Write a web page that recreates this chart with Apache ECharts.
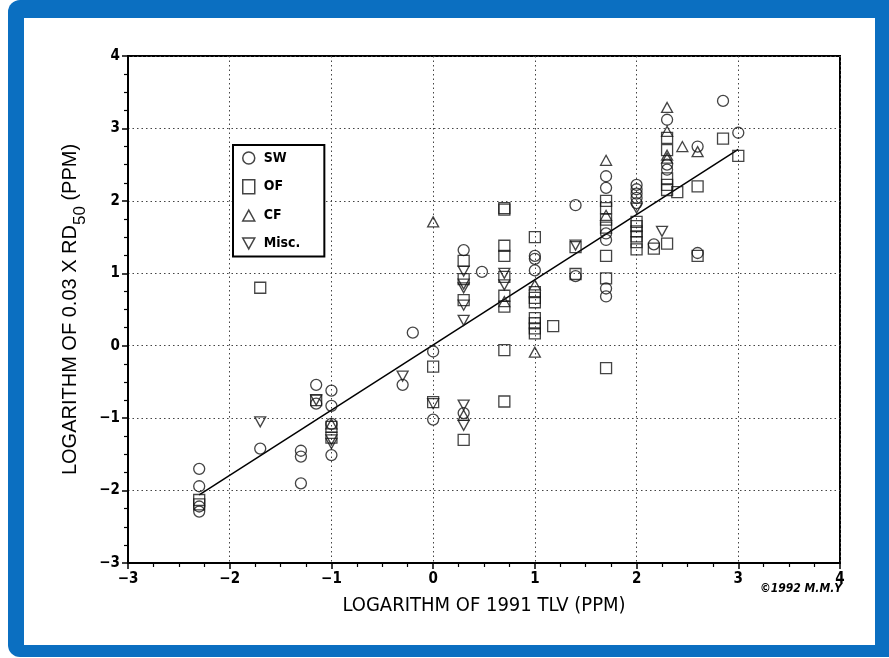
<!DOCTYPE html>
<html>
<head>
<meta charset="utf-8">
<script src="https://cdn.jsdelivr.net/npm/echarts@6/dist/echarts.min.js"></script>
<style>
  html, body { margin: 0; padding: 0; background: #ffffff; }
  #wrap { position: relative; width: 889px; height: 658px; overflow: hidden; }
  #frame { position: absolute; left: 8px; top: 0px; width: 881px; height: 657px; background: #0b6fc1; border-radius: 12px 0 0 12px; }
  #panel { position: absolute; left: 24px; top: 18px; width: 851px; height: 627px; background: #ffffff; }
  #chart { position: absolute; left: 0; top: 0; width: 889px; height: 658px; }
</style>
</head>
<body>
<div id="wrap">
  <div id="frame"></div>
  <div id="panel"></div>
  <div id="chart"></div>
</div>
<script>
// ---- data ----
const xTicks = [-3, -2, -1, 0, 1, 2, 3, 4];
const yTicks = [-3, -2, -1, 0, 1, 2, 3, 4];

const swX = [-2.3, -2.3, -2.3, -2.3, -1.7, -1.3, -1.3, -1.3, -1.15, -1.15, -1.0, -1.0, -1.0, -1.0, -0.3, -0.2, 0, 0, 0.3, 0.3, 0.48, 1.0, 1.0, 1.0, 1.4, 1.4, 1.7, 1.7, 1.7, 1.7, 1.7, 1.7, 2.0, 2.0, 2.0, 2.0, 2.0, 2.17, 2.3, 2.3, 2.3, 2.6, 2.6, 2.85, 3.0];
const swY = [-1.70, -1.94, -2.22, -2.29, -1.42, -1.45, -1.53, -1.90, -0.54, -0.80, -0.62, -0.83, -1.08, -1.51, -0.54, 0.18, -0.08, -1.02, 1.32, -0.93, 1.02, 1.24, 1.20, 1.04, 1.94, 0.96, 2.34, 2.18, 1.55, 1.46, 0.79, 0.68, 2.22, 2.16, 2.10, 2.04, 1.97, 1.40, 3.12, 2.50, 2.43, 2.75, 1.28, 3.38, 2.94];

const ofX = [-2.3, -2.3, -1.7, -1.15, -1.0, -1.0, 0, 0, 0.3, 0.3, 0.3, 0.3, 0.7, 0.7, 0.7, 0.7, 0.7, 0.7, 0.7, 0.7, 0.7, 1.0, 1.0, 1.0, 1.0, 1.0, 1.0, 1.0, 1.0, 1.18, 1.4, 1.4, 1.7, 1.7, 1.7, 1.7, 1.7, 1.7, 1.7, 2.0, 2.0, 2.0, 2.0, 2.0, 2.0, 2.17, 2.3, 2.3, 2.3, 2.3, 2.3, 2.3, 2.4, 2.6, 2.6, 2.85, 3.0];
const ofY = [-2.13, -2.19, 0.80, -0.75, -1.12, -1.27, -0.29, -0.78, 1.17, 0.92, 0.63, -1.30, 1.90, 1.88, 1.38, 1.24, 0.95, 0.69, 0.54, -0.06, -0.77, 1.50, 0.74, 0.66, 0.60, 0.38, 0.31, 0.24, 0.17, 0.27, 1.36, 0.99, 2.00, 1.90, 1.74, 1.63, 1.24, 0.93, -0.31, 1.71, 1.65, 1.58, 1.51, 1.43, 1.33, 1.34, 1.41, 2.87, 2.70, 2.31, 2.22, 2.15, 2.12, 2.20, 1.24, 2.86, 2.62];

const cfX = [-1.0, 0, 0.3, 0.7, 1.0, 1.0, 1.7, 1.7, 2.3, 2.3, 2.3, 2.3, 2.45, 2.6];
const cfY = [-1.08, 1.71, -0.96, 0.61, 0.84, -0.09, 2.56, 1.80, 3.29, 2.96, 2.63, 2.59, 2.75, 2.68];

const miscX = [-1.7, -1.15, -1.0, -1.0, -0.3, 0, 0.3, 0.3, 0.3, 0.3, 0.3, 0.3, 0.3, 0.7, 0.7, 1.4, 2.0, 2.25];
const miscY = [-1.05, -0.75, -1.30, -1.35, -0.42, -0.80, 1.03, 0.85, 0.80, 0.56, 0.35, -0.82, -1.10, 1.00, 0.84, 1.39, 1.90, 1.58];

const fitX = [-2.3, 3.0];
const fitY = [-2.06, 2.71];

const seriesNames = ['SW', 'OF', 'CF', 'Misc.'];
const xName = 'LOGARITHM OF 1991 TLV (PPM)';
const copyright = '\u00A91992 M.M.Y';

// ---- chart ----
const zip = (xs, ys) => xs.map((x, i) => [x, ys[i]]);
const FONT = '"Liberation Sans Narrow", "DejaVu Sans Condensed", "Liberation Sans", sans-serif';
const FONT_Y = '"Liberation Sans", Arial, sans-serif';
const INK = '#151515';
const minus = v => String(v).replace('-', '\u2212');

const symUp = 'path://M5,0L10,9L0,9Z';
const symDown = 'path://M0,0L10,0L5,9Z';

const hollow = { color: 'rgba(255,255,255,0)', borderColor: INK, borderWidth: 1.3 };

const chart = echarts.init(document.getElementById('chart'), null, { renderer: 'canvas' });

const axisCommon = {
  type: 'value', min: -3, max: 4, interval: 1,
  axisLine: { show: true, onZero: false, lineStyle: { color: '#000', width: 2 } },
  axisTick: { show: true, inside: false, length: 6, lineStyle: { color: '#000', width: 1.5 } },
  minorTick: { show: true, splitNumber: 4, length: 4, lineStyle: { color: '#000', width: 1.2 } },
  splitLine: { show: true, lineStyle: { color: '#444', width: 1, type: [1.5, 3] } },
  axisLabel: { color: '#000', fontFamily: FONT, fontSize: 15, fontWeight: 'bold', formatter: v => minus(v) }
};

chart.setOption({
  animation: false,
  grid: { left: 128, top: 56, right: 49, bottom: 95, show: true, borderColor: '#000', borderWidth: 2, backgroundColor: 'transparent' },
  xAxis: Object.assign({}, axisCommon, {
    name: xName, nameLocation: 'middle', nameGap: 33,
    nameTextStyle: { color: '#000', fontFamily: FONT, fontSize: 20 },
    axisLabel: Object.assign({}, axisCommon.axisLabel, { margin: 9 })
  }),
  yAxis: Object.assign({}, axisCommon, {
    name: 'LOGARITHM OF 0.03 X RD{sub|50} (PPM)', nameLocation: 'middle', nameGap: 45,
    nameTextStyle: {
      color: '#000', fontFamily: FONT_Y, fontSize: 20,
      rich: { sub: { fontFamily: FONT_Y, fontSize: 17, color: '#000', verticalAlign: 'bottom', padding: [0, 0, -8, 0] } }
    },
    axisLabel: Object.assign({}, axisCommon.axisLabel, { margin: 8 })
  }),
  legend: {
    orient: 'vertical', left: 233, top: 145,
    backgroundColor: '#fff', borderColor: '#000', borderWidth: 2, borderRadius: 0,
    padding: [6, 24, 6, 9], itemGap: 14, itemWidth: 12, itemHeight: 14,
    textStyle: { color: '#000', fontFamily: FONT, fontSize: 14, fontWeight: 'bold', padding: [0, 0, 0, 4] },
    itemStyle: { color: 'rgba(255,255,255,0)', borderColor: INK, borderWidth: 1.5 },
    data: [
      { name: 'SW', icon: 'circle' },
      { name: 'OF', icon: 'rect' },
      { name: 'CF', icon: symUp },
      { name: 'Misc.', icon: symDown }
    ]
  },
  graphic: [{
    type: 'text', left: 760, top: 583,
    style: { text: copyright, fill: '#000', font: 'italic bold 12px ' + FONT }
  }],
  series: [
    { name: 'fit', type: 'line', data: zip(fitX, fitY), showSymbol: false, lineStyle: { color: '#000', width: 1.5 }, z: 1, silent: true },
    { name: seriesNames[0], type: 'scatter', data: zip(swX, swY), symbol: 'circle', symbolSize: 11, itemStyle: hollow, z: 3 },
    { name: seriesNames[1], type: 'scatter', data: zip(ofX, ofY), symbol: 'rect', symbolSize: 11, itemStyle: hollow, z: 3 },
    { name: seriesNames[2], type: 'scatter', data: zip(cfX, cfY), symbol: symUp, symbolSize: [11, 10], itemStyle: hollow, z: 3 },
    { name: seriesNames[3], type: 'scatter', data: zip(miscX, miscY), symbol: symDown, symbolSize: [11, 10], itemStyle: hollow, z: 3 }
  ]
});
</script>
</body>
</html>
